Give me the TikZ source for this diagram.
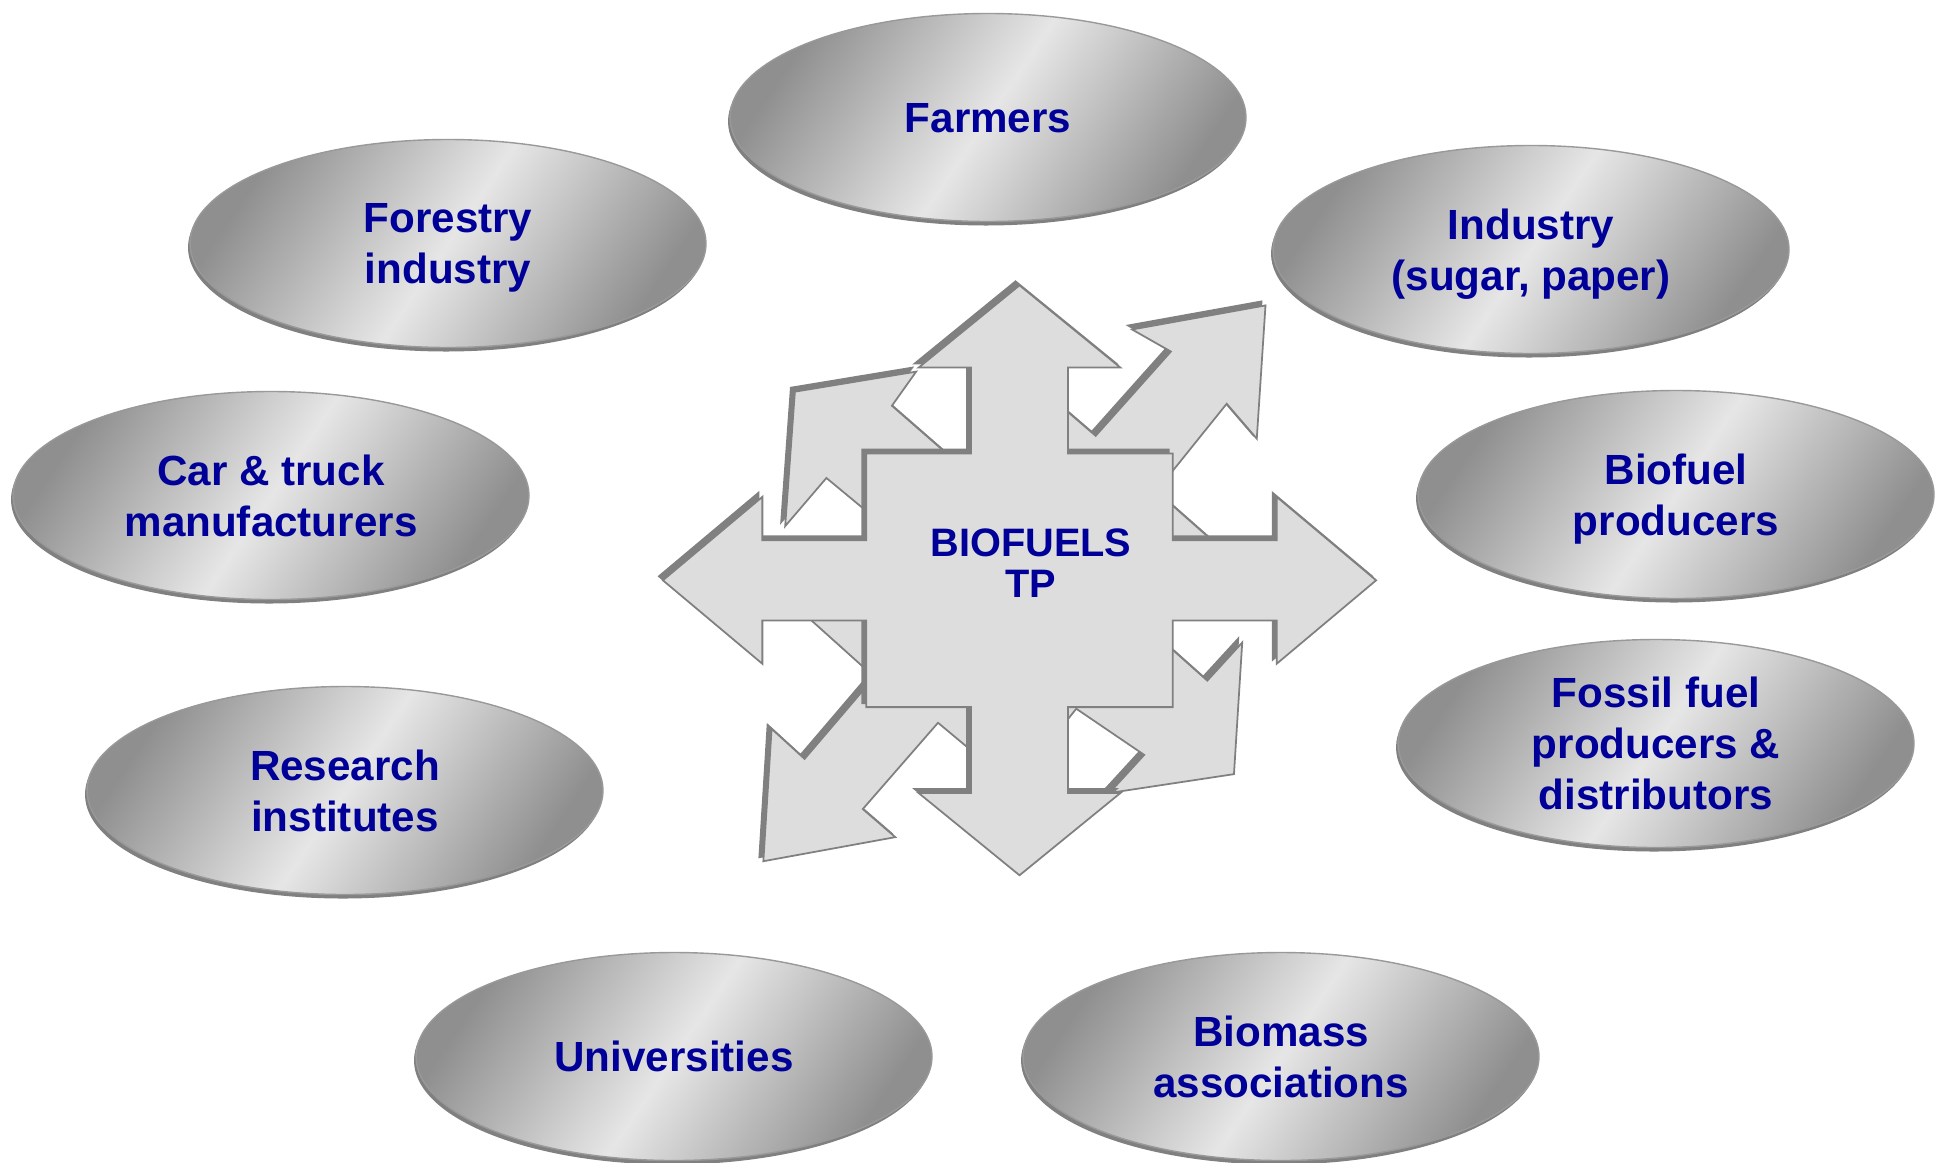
\documentclass[tikz,border=0pt]{standalone}
\usepackage{fontspec}
\setsansfont{Liberation Sans}
\usetikzlibrary{shapes.geometric, shadows, backgrounds}

\definecolor{labelblue}{RGB}{0,0,153}
\definecolor{arrowfill}{RGB}{221,221,221}
\definecolor{arrowedge}{RGB}{128,128,128}
\definecolor{silverdark}{RGB}{143,143,143}
\definecolor{silverlight}{RGB}{230,230,230}

\pgfdeclarehorizontalshading{silver}{100bp}{color(0bp)=(silverdark); color(25bp)=(silverdark); color(50bp)=(silverlight); color(75bp)=(silverdark); color(100bp)=(silverdark)}

\tikzstyle{stake} = [ellipse, minimum width=5.16cm, minimum height=2.08cm, inner xsep=0pt, inner ysep=-4pt, text depth=0pt, align=center, text=labelblue, font=\sffamily\bfseries\fontsize{12}{14.5}\selectfont, shade, shading=silver, shading angle=-34, draw=arrowedge!80, drop shadow={shadow xshift=-0.02cm, shadow yshift=-0.04cm, fill=arrowedge, opacity=1}]
\tikzstyle{hubtext} = [align=center, text=labelblue, font=\sffamily\bfseries\fontsize{11.3}{11.7}\selectfont]
\tikzstyle{arrowshadow} = [fill=arrowedge, draw=arrowedge, line width=0.5pt]
\tikzstyle{arrowbody} = [fill=arrowfill, draw=arrowedge, line width=0.5pt]

\begin{document}
\begin{tikzpicture}[node distance=4.95cm]

        \useasboundingbox (0,0) rectangle (19.44,11.62);

        % Hub text in the middle of the arrows
        \node (hub) [hubtext] at (10.31,5.985) {BIOFUELS\\TP};

        % Ellipses above and below the hub
        \node (farmers) [stake, above of=hub, xshift=-0.43cm, yshift=-0.49cm] {Farmers};
        \node (universities) [stake, below of=hub, xshift=-3.57cm, yshift=0.02cm] {Universities};
        \node (biomass) [stake, below of=hub, xshift=2.50cm, yshift=0.02cm] {Biomass\\associations};

        % Ellipses on the left
        \node (forestry) [stake, left of=hub, xshift=-0.88cm, yshift=3.20cm] {Forestry\\industry};
        \node (cartruck) [stake, left of=hub, xshift=-2.65cm, yshift=0.68cm] {Car \& truck\\manufacturers};
        \node (research) [stake, left of=hub, xshift=-1.91cm, yshift=-2.27cm] {Research\\institutes};

        % Ellipses on the right
        \node (industry) [stake, right of=hub, xshift=0.05cm, yshift=3.14cm] {Industry\\(sugar, paper)};
        \node (bioprod) [stake, right of=hub, xshift=1.50cm, yshift=0.69cm] {Biofuel\\producers};
        \node (fossil) [stake, right of=hub, xshift=1.30cm, yshift=-1.80cm] {Fossil fuel\\producers \&\\distributors};

        % Crossed arrows behind the hub text
        \begin{scope}[on background layer, shift={(hub)}, shift={(-0.115cm,-0.168cm)}, x=0.004847cm, y=0.00402cm]

            % Tilted arrows at the back
            \foreach \layer/\dx/\dy in {arrowshadow/-0.04/0.04, arrowbody/0/0}
                \filldraw[\layer, xshift=\dx cm, yshift=\dy cm] (507,685) -- (489,353) -- (427,440) -- (282,222) -- (404,92)
                    -- (257,-110) -- (387,-250) -- (459,-155) -- (442,-483) -- (185,-530) -- (257,-435) -- (117,-320)
                    -- (-11,-513) -- (-168,-355) -- (-323,-570) -- (-256,-640) -- (-528,-700) -- (-511,-370) -- (-443,-445)
                    -- (-299,-241) -- (-438,-90) -- (-285,142) -- (-398,255) -- (-483,135) -- (-463,470) -- (-213,520)
                    -- (-263,435) -- (-116,280) -- (27,495) -- (157,360) -- (312,570) -- (232,625) -- cycle;

            % Straight arrows in front
            \foreach \layer/\dx/\dy in {arrowshadow/-0.04/0.04, arrowbody/0/0}
                \filldraw[\layer, xshift=\dx cm, yshift=\dy cm] (735,0) -- (530,-208) -- (530,-100) -- (316,-100) -- (316,-316)
                    -- (100,-316) -- (100,-530) -- (208,-530) -- (0,-735) -- (-208,-530) -- (-100,-530) -- (-100,-316)
                    -- (-316,-316) -- (-316,-100) -- (-530,-100) -- (-530,-208) -- (-735,0) -- (-530,208) -- (-530,100)
                    -- (-316,100) -- (-316,316) -- (-100,316) -- (-100,530) -- (-208,530) -- (0,735) -- (208,530)
                    -- (100,530) -- (100,316) -- (316,316) -- (316,100) -- (530,100) -- (530,208) -- cycle;

        \end{scope}

\end{tikzpicture}
\end{document}
